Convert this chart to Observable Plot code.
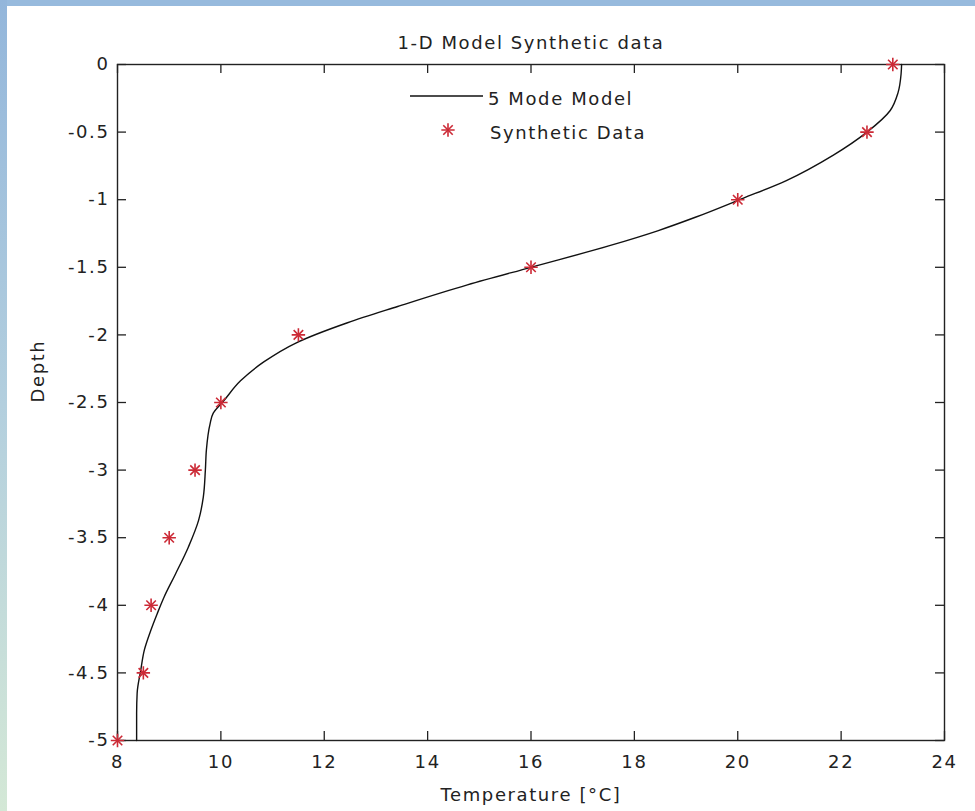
<!DOCTYPE html>
<html>
<head>
<meta charset="utf-8">
<script src="https://cdn.jsdelivr.net/npm/d3@7"></script>
<script src="https://cdn.jsdelivr.net/npm/@observablehq/plot@0.6"></script>
<style>
  html, body { margin: 0; padding: 0; background: #fff; }
  #wrap { position: relative; width: 975px; height: 811px; overflow: hidden; }
  #topStrip { position: absolute; left: 0; top: 0; width: 975px; height: 6px; background: #97badd; }
  #leftStrip { position: absolute; left: 0; top: 0; width: 7px; height: 811px;
    background: linear-gradient(to bottom, #93b6db 0%, #b3cfde 50%, #d4e8d6 100%); }
  #legend { position: absolute; left: 0; top: 0; pointer-events: none; }
</style>
</head>
<body>
<div id="wrap"></div>
<script>
// Synthetic data points (red asterisks)
const dataTemp  = [23, 22.5, 20, 16, 11.5, 10, 9.5, 9, 8.65, 8.5, 8];
const dataDepth = [0, -0.5, -1, -1.5, -2, -2.5, -3, -3.5, -4, -4.5, -5];

// 5 Mode Model curve
const modelDepth = [0, -0.07, -0.21, -0.34, -0.5, -0.67, -0.86, -0.99, -1.13, -1.23, -1.34, -1.5, -1.63, -1.79, -1.91, -2.06, -2.2, -2.34, -2.49, -2.58, -2.66, -2.85, -3.0, -3.2, -3.37, -3.57, -3.77, -3.94, -4.06, -4.19, -4.33, -4.48, -4.65, -4.8, -5];
const modelTemp  = [23.17, 23.16, 23.1, 22.95, 22.5, 21.85, 20.93, 20.1, 19.18, 18.45, 17.52, 16.0, 14.77, 13.42, 12.45, 11.45, 10.83, 10.38, 10.05, 9.85, 9.79, 9.72, 9.7, 9.66, 9.57, 9.37, 9.12, 8.9, 8.77, 8.64, 8.52, 8.45, 8.38, 8.37, 8.37];

// Tick values
const xTicks = [8, 10, 12, 14, 16, 18, 20, 22, 24];
const yTicks = [0, -0.5, -1, -1.5, -2, -2.5, -3, -3.5, -4, -4.5, -5];

const titleText = "1-D Model Synthetic data";
const xLabel = "Temperature [\u00B0C]";
const yLabel = "Depth";
const legendLine = "5 Mode Model";
const legendDots = "Synthetic Data";

const points = dataTemp.map((t, i) => ({t, d: dataDepth[i]}));
const model = modelTemp.map((t, i) => ({t, d: modelDepth[i]}));

const W = 975, H = 811;
const mL = 117, mR = 31, mT = 64, mB = 71;
const fw = W - mL - mR, fh = H - mT - mB;
const tick = 9;
const red = "#cc2a36";
const ink = "#222";

const chart = Plot.plot({
  width: W,
  height: H,
  marginLeft: mL, marginRight: mR, marginTop: mT, marginBottom: mB,
  style: {background: "transparent", fontFamily: "'DejaVu Sans', sans-serif", fontSize: "18px", letterSpacing: "1.6px", color: ink},
  x: {domain: [8, 24], label: null},
  y: {domain: [-5, 0], label: null},
  marks: [
    // inward ticks on all four sides
    Plot.gridX(xTicks, {stroke: ink, strokeOpacity: 1, strokeWidth: 1.3, insetTop: fh - tick}),
    Plot.gridX(xTicks, {stroke: ink, strokeOpacity: 1, strokeWidth: 1.3, insetBottom: fh - tick}),
    Plot.gridY(yTicks, {stroke: ink, strokeOpacity: 1, strokeWidth: 1.3, insetRight: fw - tick}),
    Plot.gridY(yTicks, {stroke: ink, strokeOpacity: 1, strokeWidth: 1.3, insetLeft: fw - tick}),
    Plot.axisX({ticks: xTicks, tickSize: 0, tickPadding: 15, tickFormat: d => String(d), label: null, fill: ink}),
    Plot.axisY({ticks: yTicks, tickSize: 0, tickPadding: 8, tickFormat: d => String(d), label: null, fill: ink}),
    Plot.frame({stroke: ink, strokeWidth: 1.4}),
    Plot.line(model, {x: "t", y: "d", curve: "monotone-y", stroke: "#111", strokeWidth: 1.4}),
    Plot.dot(points, {x: "t", y: "d", symbol: "plus", r: 4.4, stroke: red, strokeWidth: 1.6}),
    Plot.dot(points, {x: "t", y: "d", symbol: "times", r: 4.4, stroke: red, strokeWidth: 1.6}),
    Plot.text([titleText], {frameAnchor: "top", lineAnchor: "middle", dy: -21, fill: ink}),
    Plot.text([xLabel], {frameAnchor: "bottom", lineAnchor: "middle", dy: 55, fill: ink}),
    Plot.text([yLabel], {frameAnchor: "left", lineAnchor: "middle", dx: -79, rotate: -90, fill: ink})
  ]
});

const wrap = document.getElementById("wrap");
wrap.appendChild(chart);

// Legend overlay
const leg = d3.select(wrap).append("svg")
  .attr("id", "legend").attr("width", W).attr("height", H)
  .style("font-family", "'DejaVu Sans', sans-serif").style("font-size", "18px").style("letter-spacing", "1.6px");
leg.append("line").attr("x1", 410).attr("x2", 483).attr("y1", 96).attr("y2", 96)
  .attr("stroke", "#111").attr("stroke-width", 1.6);
leg.append("text").attr("x", 488).attr("y", 100).attr("dominant-baseline", "middle").attr("fill", ink).text(legendLine);
const sym = leg.append("g").attr("transform", "translate(448,130)").attr("stroke", red).attr("stroke-width", 1.6);
sym.append("path").attr("d", d3.symbol(d3.symbolPlus, 60)());
sym.append("path").attr("d", d3.symbol(d3.symbolTimes, 60)());
leg.append("text").attr("x", 490).attr("y", 134).attr("dominant-baseline", "middle").attr("fill", ink).text(legendDots);

const ts = document.createElement("div"); ts.id = "topStrip"; wrap.appendChild(ts);
const ls = document.createElement("div"); ls.id = "leftStrip"; wrap.appendChild(ls);
</script>
</body>
</html>
